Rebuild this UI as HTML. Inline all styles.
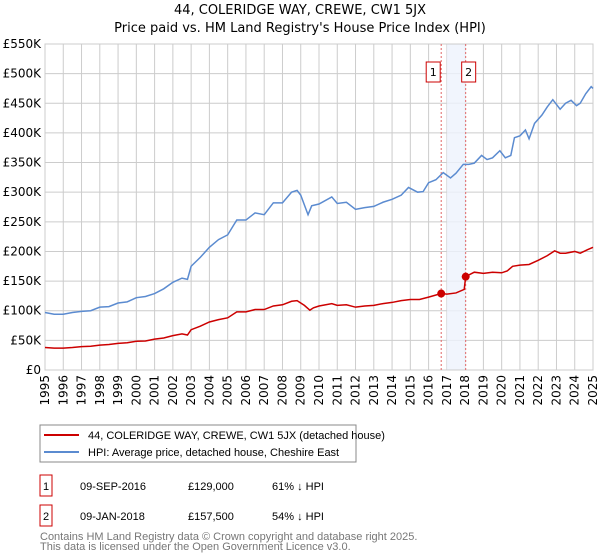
<!DOCTYPE html>
<html><head><meta charset="utf-8"><style>
body{margin:0;width:600px;height:560px;background:#fff;font-family:"DejaVu Sans","Liberation Sans",sans-serif;overflow:hidden}
svg{position:absolute;left:0;top:0}
.lib{font-family:"Liberation Sans","DejaVu Sans",sans-serif}
</style></head><body>
<svg id="c" width="600" height="560">
<text x="300" y="14" text-anchor="middle" font-size="13">44, COLERIDGE WAY, CREWE, CW1 5JX</text>
<text x="300" y="32" text-anchor="middle" font-size="13">Price paid vs. HM Land Registry's House Price Index (HPI)</text>
<g id="grid"></g><g id="marks"></g>
<rect x="40" y="425" width="316" height="37" fill="#fff" stroke="#888"/>
<line x1="44" y1="435" x2="79" y2="435" stroke="#cc0000" stroke-width="2"/>
<text class="lib" x="88" y="439" font-size="11">44, COLERIDGE WAY, CREWE, CW1 5JX (detached house)</text>
<line x1="44" y1="452" x2="79" y2="452" stroke="#5b8bd0" stroke-width="2"/>
<text class="lib" x="88" y="456" font-size="11">HPI: Average price, detached house, Cheshire East</text>
<g class="lib" font-size="11">
<rect x="40" y="475" width="12" height="21" fill="#fff" stroke="#cc0000"/>
<text x="46" y="490" text-anchor="middle">1</text>
<text x="80" y="490">09-SEP-2016</text><text x="188" y="490">£129,000</text><text x="272" y="490">61% ↓ HPI</text>
<rect x="40" y="505" width="12" height="21" fill="#fff" stroke="#cc0000"/>
<text x="46" y="520" text-anchor="middle">2</text>
<text x="80" y="520">09-JAN-2018</text><text x="188" y="520">£157,500</text><text x="272" y="520">54% ↓ HPI</text>
</g>
<text class="lib" x="40" y="540" font-size="11" fill="#777">Contains HM Land Registry data © Crown copyright and database right 2025.</text>
<text class="lib" x="40" y="550" font-size="11" fill="#777">This data is licensed under the Open Government Licence v3.0.</text>
</svg>
<script>
const yTicks=[0,50,100,150,200,250,300,350,400,450,500,550];
const yLabels=["£0","£50K","£100K","£150K","£200K","£250K","£300K","£350K","£400K","£450K","£500K","£550K"];
const years=[1995,1996,1997,1998,1999,2000,2001,2002,2003,2004,2005,2006,2007,2008,2009,2010,2011,2012,2013,2014,2015,2016,2017,2018,2019,2020,2021,2022,2023,2024,2025];
const hpiT=[1995,1995.5,1996,1996.5,1997,1997.5,1998,1998.5,1999,1999.5,2000,2000.5,2001,2001.5,2002,2002.5,2002.8,2003,2003.5,2004,2004.5,2005,2005.5,2006,2006.5,2007,2007.5,2008,2008.5,2008.8,2009.0,2009.4,2009.6,2010,2010.7,2011,2011.5,2012,2012.5,2013,2013.5,2014,2014.5,2014.9,2015.4,2015.7,2016,2016.4,2016.8,2017.2,2017.5,2017.9,2018.2,2018.5,2018.9,2019.2,2019.5,2019.9,2020.2,2020.5,2020.7,2021.0,2021.3,2021.5,2021.8,2022.2,2022.5,2022.8,2023.2,2023.5,2023.8,2024.1,2024.3,2024.6,2024.9,2025];
const hpiV=[97,94,94,97,99,100,106,107,113,115,122,124,129,137,148,155,153,175,190,207,220,228,253,253,265,262,282,282,300,303,295,262,277,280,292,281,283,271,274,276,283,288,295,308,300,301,316,321,333,324,332,347,347,349,362,355,358,370,358,362,392,395,405,390,416,430,444,456,440,450,455,446,450,466,478,475];
const priceT=[1995,1995.5,1996,1996.5,1997,1997.5,1998,1998.5,1999,1999.5,2000,2000.5,2001,2001.5,2002,2002.5,2002.8,2003,2003.5,2004,2004.5,2005,2005.5,2006,2006.5,2007,2007.5,2008,2008.5,2008.8,2009.2,2009.5,2009.7,2010,2010.7,2011,2011.5,2012,2012.5,2013,2013.5,2014,2014.5,2015,2015.5,2016,2016.69,2017,2017.5,2017.95,2018.03,2018.5,2019,2019.5,2020,2020.3,2020.6,2021,2021.5,2022,2022.5,2022.9,2023.2,2023.5,2024,2024.3,2024.7,2025];
const priceV=[38,37,37,38,39.5,40,42,43,45,46,48.5,49,52,54,58,61,59,68,74,81,85,88,98,98,102,102,108,110,116,117,109,101,105,108,112,109,110,106,108,109,112,114,117,119,119,123,129,128,130,136,157.5,165,163,165,164,167,175,177,178,185,193,201,197,197,200,197,203,207];
const saleT=[2016.69,2018.03];
const saleV=[129,157.5];
const saleLabels=["1","2"];
const X0=45,X1=593,Y0=370,Y1=44;
const xs=t=>X0+(t-1995)/30*(X1-X0);
const ys=v=>Y0-v/550*(Y0-Y1);
const NS="http://www.w3.org/2000/svg";
function mk(tag,attrs,parent){const e=document.createElementNS(NS,tag);for(const k in attrs)e.setAttribute(k,attrs[k]);parent.appendChild(e);return e;}
const g=document.getElementById('grid'),m=document.getElementById('marks');
yTicks.forEach((v,i)=>{
 const l=mk('line',{x1:X0,x2:X1,y1:ys(v),y2:ys(v),stroke:'#ccc'},g);
 
 
 const t=mk('text',{x:X0-4,y:ys(v)+4,'text-anchor':'end','font-size':12},g);
 t.textContent=yLabels[i];
 
 
});
years.forEach(y=>{
 const l=mk('line',{x1:xs(y),x2:xs(y),y1:Y1,y2:Y0,stroke:'#ccc'},g);
 
 
 const t=mk('text',{x:0,y:0,'font-size':12,'text-anchor':'end',transform:`translate(${xs(y)+4},${Y0+5}) rotate(-90)`},g);
 t.textContent=y;
 
 
});
const sh=mk('rect',{x:xs(2017),y:Y1,width:xs(saleT[1])-xs(2017),height:Y0-Y1,fill:'#eef3fc',opacity:0.8},g);


const fr=mk('rect',{x:X0,y:Y1,width:X1-X0,height:Y0-Y1,fill:'none',stroke:'#ccc'},g);


saleT.forEach((t,i)=>{
 const l=mk('line',{x1:xs(t),x2:xs(t),y1:Y1,y2:Y0,stroke:'#e06666','stroke-dasharray':'2,2'},m);
 
 
 const r=mk('rect',{x:xs(t)-(i==0?10:-1)-5,y:62,width:14,height:20,fill:'#fff',stroke:'#cc0000'},m);
 
 
 const tx=mk('text',{x:xs(t)-(i==0?10:-1)+2,y:76,'text-anchor':'middle','font-size':11},m);
 tx.textContent=saleLabels[i];
 
 
});
const hp=mk('polyline',{points:hpiT.map((t,i)=>xs(t)+','+ys(hpiV[i])).join(' '),fill:'none',stroke:'#5b8bd0','stroke-width':1.5},m);


const pp=mk('polyline',{points:priceT.map((t,i)=>xs(t)+','+ys(priceV[i])).join(' '),fill:'none',stroke:'#cc0000','stroke-width':1.5},m);


saleT.forEach((t,i)=>{
 const c=mk('circle',{cx:xs(t),cy:ys(saleV[i]),r:4,fill:'#cc0000'},m);
 
 
});
</script>
</body></html>
